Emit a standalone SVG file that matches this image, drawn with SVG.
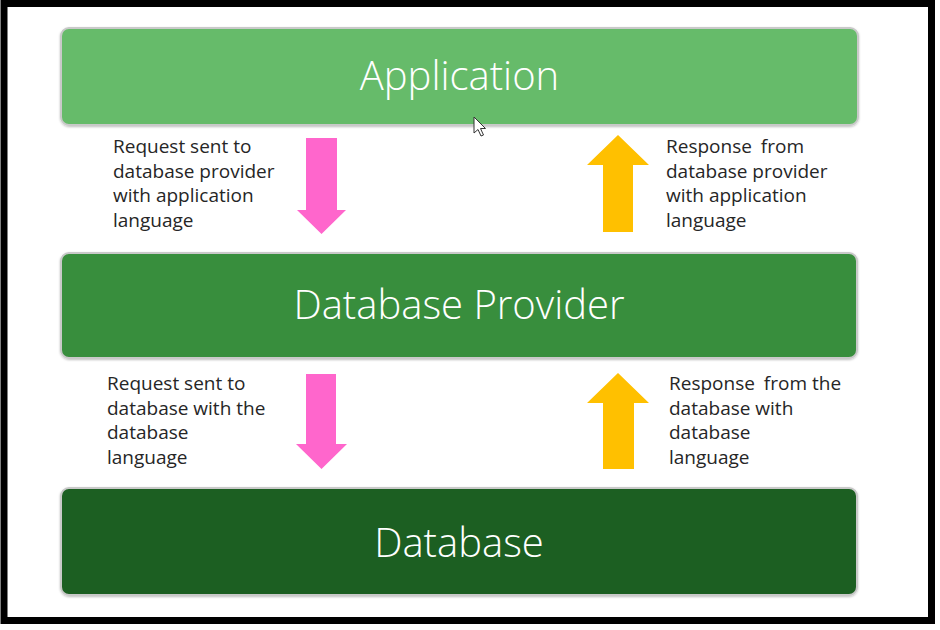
<svg xmlns="http://www.w3.org/2000/svg" width="940" height="630" viewBox="0 0 940 630">
<defs>
<style>
.box{stroke:#c9c9c9;stroke-width:2}
.title{font-family:"Open Sans","Noto Sans",sans-serif;font-size:40px;fill:#ffffff;text-anchor:middle;font-weight:300}
.lbl{font-family:"Open Sans","Noto Sans",sans-serif;font-size:19px;fill:#262626}
.down{fill:#ff66cc}
.up{fill:#ffc000}
</style>
<filter id="sh" x="-5%" y="-10%" width="110%" height="130%">
<feDropShadow dx="0" dy="1" stdDeviation="1" flood-color="#000" flood-opacity="0.25"/>
</filter>
</defs>
<rect x="0" y="0" width="940" height="630" fill="#ffffff"/>
<rect x="4" y="3.5" width="927.5" height="617" fill="none" stroke="#000" stroke-width="7"/>
<g id="application">
<rect class="box" x="61" y="28" width="797" height="97" rx="8" fill="#66bb6a" filter="url(#sh)"/>
<text class="title" x="459.5" y="90">Application</text>
</g>
<g id="database-provider">
<rect class="box" x="61" y="253" width="796" height="105" rx="8" fill="#388e3c" filter="url(#sh)"/>
<text class="title" x="459" y="319">Database Provider</text>
</g>
<g id="database">
<rect class="box" x="61" y="488" width="796" height="107" rx="8" fill="#1e5e22" filter="url(#sh)"/>
<text class="title" x="459" y="557">Database</text>
</g>
<g id="connectors">
<polygon class="down" points="306,138 337,138 337,210 346,210 321.5,234 297,210 306,210"/>
<polygon class="down" points="306,374 336,374 336,444 347,444 321.5,469 296,444 306,444"/>
<polygon class="up" points="618,135 649,165 633,165 633,232 603,232 603,165 587,165"/>
<polygon class="up" points="618,373 649,403 634,403 634,469 603,469 603,403 587,403"/>
</g>
<g id="label-request-provider">
<text class="lbl" x="113" y="153">Request sent to</text>
<text class="lbl" x="113" y="178">database provider</text>
<text class="lbl" x="113" y="202">with application</text>
<text class="lbl" x="113" y="227">language</text>
</g>
<g id="label-response-provider">
<text class="lbl" x="666" y="153">Response <tspan dx="4">from</tspan></text>
<text class="lbl" x="666" y="178">database provider</text>
<text class="lbl" x="666" y="202">with application</text>
<text class="lbl" x="666" y="227">language</text>
</g>
<g id="label-request-database">
<text class="lbl" x="107" y="390">Request sent to</text>
<text class="lbl" x="107" y="415">database with the</text>
<text class="lbl" x="107" y="439">database</text>
<text class="lbl" x="107" y="464">language</text>
</g>
<g id="label-response-database">
<text class="lbl" x="669" y="390">Response <tspan dx="4">from</tspan> the</text>
<text class="lbl" x="669" y="415">database with</text>
<text class="lbl" x="669" y="439">database</text>
<text class="lbl" x="669" y="464">language</text>
</g>
<path d="M474,117 L474,133 L478,129.5 L481,136 L483.5,135 L480.5,128.5 L485.5,128.5 Z" fill="#ffffff" stroke="#333" stroke-width="1"/>
</svg>
